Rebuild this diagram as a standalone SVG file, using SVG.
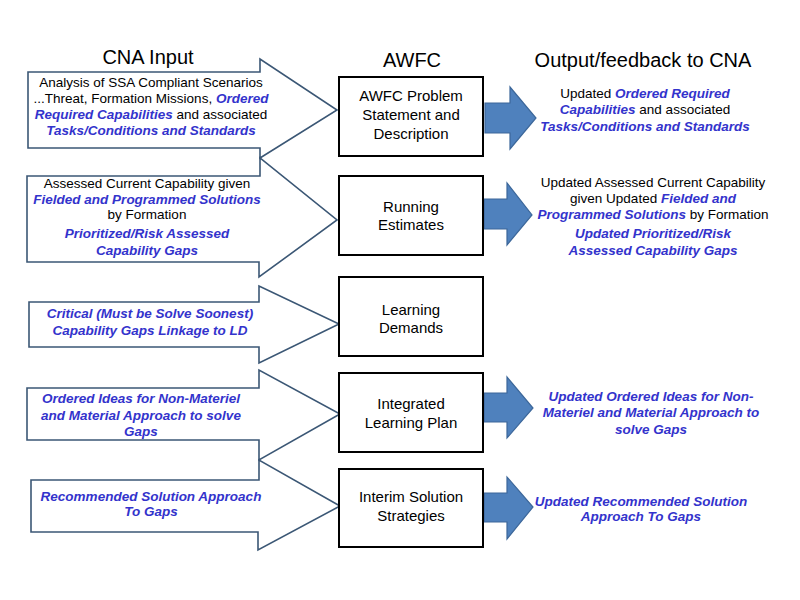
<svg xmlns="http://www.w3.org/2000/svg" width="800" height="600" viewBox="0 0 800 600">
<style>
  .hdr{font-family:"Liberation Sans",Arial,sans-serif;font-size:20px;fill:#000;text-anchor:middle}
  .box{fill:#fff;stroke:#000;stroke-width:2}
  .btxt{font-family:"Liberation Sans",Arial,sans-serif;font-size:15px;fill:#000;text-anchor:middle}
  .inarrow{fill:#fff;stroke:#3b5775;stroke-width:1.6;stroke-linejoin:miter}
  .outarrow{fill:#4f81bd;stroke:#3c679a;stroke-width:1.2}
  .t{font-family:"Liberation Sans",Arial,sans-serif;font-size:13.5px;fill:#000;text-anchor:middle}
  .b{font-weight:bold;font-style:italic;fill:#3333cc}
</style>
<rect width="800" height="600" fill="#fff"/>

<g id="headers">
  <text class="hdr" x="148" y="64">CNA Input</text>
  <text class="hdr" x="412" y="67">AWFC</text>
  <text class="hdr" x="643" y="67">Output/feedback to CNA</text>
</g>

<g id="connectors">
  <path id="in1" class="inarrow" d="M28,72 H260 V59 L337,110 L260,158 V148 H28 Z"/>
  <path id="in2" class="inarrow" d="M27,176 H260 V158 L337,220 L259,277 V262 H27 Z"/>
  <path id="in3" class="inarrow" d="M29,302 H259 V286 L339,324 L259,363 V347 H29 Z"/>
  <path id="in4" class="inarrow" d="M27,388 H259 V370 L340,414 L259,460 V440 H27 Z"/>
  <path id="in5" class="inarrow" d="M31,480 H259 V460 L340,506 L258,550 V532 H31 Z"/>
  <path id="out1" class="outarrow" d="M485,103 H510 V87 L536,118 L510,149 V133 H485 Z"/>
  <path id="out2" class="outarrow" d="M484,199 H507 V183 L532,215 L507,245 V229 H484 Z"/>
  <path id="out4" class="outarrow" d="M484,393 H507 V377 L533,408 L507,438 V422 H484 Z"/>
  <path id="out5" class="outarrow" d="M484,493 H507 V477 L533,507 L507,539 V522 H484 Z"/>
</g>

<g id="input1">
  <text class="t" x="151" y="87">Analysis of SSA Compliant Scenarios</text>
  <text class="t" x="151" y="103">...Threat, Formation Missions, <tspan class="b">Ordered</tspan></text>
  <text class="t" x="151" y="119"><tspan class="b">Required Capabilities</tspan> and associated</text>
  <text class="t b" x="151" y="135">Tasks/Conditions  and Standards</text>
</g>
<g id="input2">
  <text class="t" x="147" y="188">Assessed Current Capability given</text>
  <text class="t b" x="147" y="204">Fielded and Programmed Solutions</text>
  <text class="t" x="147" y="219">by Formation</text>
  <text class="t b" x="147" y="238">Prioritized/Risk Assessed</text>
  <text class="t b" x="147" y="255">Capability Gaps</text>
</g>
<g id="input3">
  <text class="t b" x="150" y="318">Critical (Must be Solve Soonest)</text>
  <text class="t b" x="150" y="335">Capability Gaps Linkage to LD</text>
</g>
<g id="input4">
  <text class="t b" x="141" y="403">Ordered Ideas for Non-Materiel</text>
  <text class="t b" x="141" y="420">and Material Approach to solve</text>
  <text class="t b" x="141" y="436">Gaps</text>
</g>
<g id="input5">
  <text class="t b" x="151" y="501">Recommended Solution Approach</text>
  <text class="t b" x="151" y="516">To Gaps</text>
</g>

<g id="node1">
  <rect class="box" x="339" y="77" width="144" height="79"/>
  <text class="btxt" x="411" y="101">AWFC Problem</text>
  <text class="btxt" x="411" y="120">Statement and</text>
  <text class="btxt" x="411" y="139">Description</text>
</g>
<g id="node2">
  <rect class="box" x="339" y="176" width="144" height="79"/>
  <text class="btxt" x="411" y="212">Running</text>
  <text class="btxt" x="411" y="230">Estimates</text>
</g>
<g id="node3">
  <rect class="box" x="339" y="277" width="144" height="79"/>
  <text class="btxt" x="411" y="315">Learning</text>
  <text class="btxt" x="411" y="333">Demands</text>
</g>
<g id="node4">
  <rect class="box" x="339" y="373" width="144" height="79"/>
  <text class="btxt" x="411" y="409">Integrated</text>
  <text class="btxt" x="411" y="428">Learning Plan</text>
</g>
<g id="node5">
  <rect class="box" x="339" y="469" width="144" height="78"/>
  <text class="btxt" x="411" y="502">Interim Solution</text>
  <text class="btxt" x="411" y="521">Strategies</text>
</g>

<g id="output1">
  <text class="t" x="645" y="98">Updated <tspan class="b">Ordered Required</tspan></text>
  <text class="t" x="645" y="114"><tspan class="b">Capabilities</tspan> and associated</text>
  <text class="t b" x="645" y="131">Tasks/Conditions  and Standards</text>
</g>
<g id="output2">
  <text class="t" x="653" y="187">Updated Assessed Current Capability</text>
  <text class="t" x="653" y="203">given Updated <tspan class="b">Fielded and</tspan></text>
  <text class="t" x="653" y="219"><tspan class="b">Programmed Solutions</tspan> by Formation</text>
  <text class="t b" x="653" y="238">Updated Prioritized/Risk</text>
  <text class="t b" x="653" y="255">Assessed Capability Gaps</text>
</g>
<g id="output4">
  <text class="t b" x="651" y="401">Updated Ordered Ideas for Non-</text>
  <text class="t b" x="651" y="417">Materiel and Material Approach to</text>
  <text class="t b" x="651" y="434">solve Gaps</text>
</g>
<g id="output5">
  <text class="t b" x="641" y="506">Updated Recommended Solution</text>
  <text class="t b" x="641" y="521">Approach To Gaps</text>
</g>
</svg>
